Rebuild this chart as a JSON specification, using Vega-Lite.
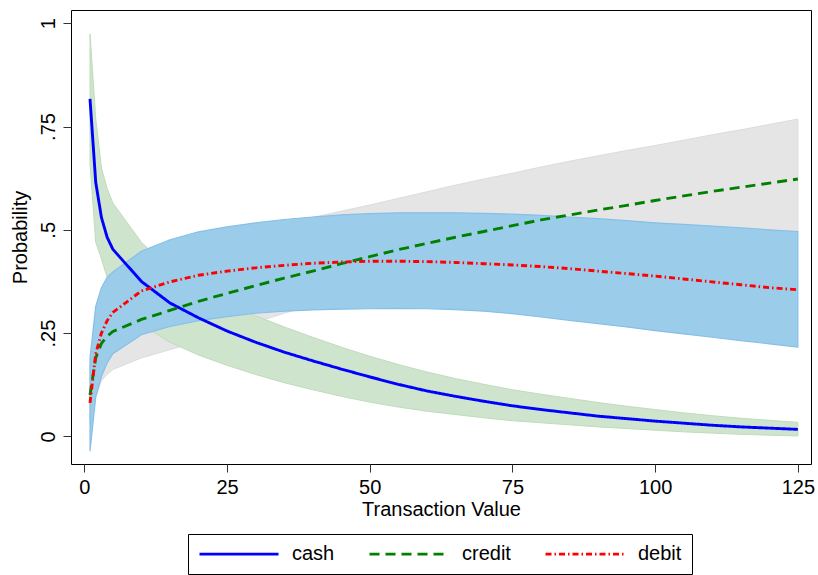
{
  "$schema": "https://vega.github.io/schema/vega-lite/v6.json",
  "width": 740,
  "height": 454,
  "autosize": {"type": "none"},
  "padding": {"left": 71, "top": 10, "right": 7, "bottom": 111},
  "config": {
    "font": "Liberation Sans",
    "view": {"stroke": "#000", "strokeWidth": 1},
    "axis": {
      "grid": false, "domain": false,
      "labelFont": "Liberation Sans", "labelFontSize": 20, "labelColor": "#000",
      "titleFont": "Liberation Sans", "titleFontSize": 20, "titleFontWeight": "normal", "titleColor": "#000",
      "tickColor": "#333", "tickSize": 8, "tickWidth": 1, "labelPadding": 5
    },
    "legend": {
      "orient": "none", "legendX": 117, "legendY": 524, "direction": "horizontal",
      "strokeColor": "#000", "fillColor": "#fff", "padding": 10, "cornerRadius": 0,
      "symbolType": "stroke", "symbolSize": 6241, "symbolStrokeWidth": 2.75, "clipHeight": 20,
      "labelFont": "Liberation Sans", "labelFontSize": 20, "labelColor": "#000", "labelOffset": 12,
      "columnPadding": 33
    }
  },
  "datasets": {
    "d": [
      {"x": 1, "s": "cash", "p": 0.817, "lo": 0.66, "hi": 0.974},
      {"x": 2, "s": "cash", "p": 0.615, "lo": 0.47, "hi": 0.77},
      {"x": 3, "s": "cash", "p": 0.53, "lo": 0.43, "hi": 0.65},
      {"x": 4, "s": "cash", "p": 0.482, "lo": 0.385, "hi": 0.6},
      {"x": 5, "s": "cash", "p": 0.453, "lo": 0.35, "hi": 0.565},
      {"x": 10, "s": "cash", "p": 0.375, "lo": 0.27, "hi": 0.47},
      {"x": 15, "s": "cash", "p": 0.323, "lo": 0.228, "hi": 0.405},
      {"x": 20, "s": "cash", "p": 0.287, "lo": 0.197, "hi": 0.36},
      {"x": 25, "s": "cash", "p": 0.255, "lo": 0.172, "hi": 0.322},
      {"x": 30, "s": "cash", "p": 0.228, "lo": 0.15, "hi": 0.292},
      {"x": 35, "s": "cash", "p": 0.204, "lo": 0.13, "hi": 0.265},
      {"x": 40, "s": "cash", "p": 0.183, "lo": 0.113, "hi": 0.24},
      {"x": 45, "s": "cash", "p": 0.163, "lo": 0.097, "hi": 0.216},
      {"x": 50, "s": "cash", "p": 0.144, "lo": 0.083, "hi": 0.194},
      {"x": 55, "s": "cash", "p": 0.126, "lo": 0.071, "hi": 0.174},
      {"x": 60, "s": "cash", "p": 0.11, "lo": 0.061, "hi": 0.156},
      {"x": 65, "s": "cash", "p": 0.097, "lo": 0.053, "hi": 0.14},
      {"x": 70, "s": "cash", "p": 0.085, "lo": 0.045, "hi": 0.126},
      {"x": 75, "s": "cash", "p": 0.074, "lo": 0.038, "hi": 0.113},
      {"x": 80, "s": "cash", "p": 0.065, "lo": 0.033, "hi": 0.102},
      {"x": 85, "s": "cash", "p": 0.057, "lo": 0.028, "hi": 0.092},
      {"x": 90, "s": "cash", "p": 0.049, "lo": 0.023, "hi": 0.082},
      {"x": 95, "s": "cash", "p": 0.043, "lo": 0.019, "hi": 0.073},
      {"x": 100, "s": "cash", "p": 0.037, "lo": 0.015, "hi": 0.065},
      {"x": 105, "s": "cash", "p": 0.032, "lo": 0.011, "hi": 0.057},
      {"x": 110, "s": "cash", "p": 0.027, "lo": 0.008, "hi": 0.05},
      {"x": 115, "s": "cash", "p": 0.023, "lo": 0.005, "hi": 0.044},
      {"x": 120, "s": "cash", "p": 0.02, "lo": 0.003, "hi": 0.039},
      {"x": 125, "s": "cash", "p": 0.017, "lo": 0.001, "hi": 0.034},
      {"x": 1, "s": "credit", "p": 0.1, "lo": 0.03, "hi": 0.17},
      {"x": 2, "s": "credit", "p": 0.19, "lo": 0.095, "hi": 0.28},
      {"x": 3, "s": "credit", "p": 0.225, "lo": 0.135, "hi": 0.32},
      {"x": 4, "s": "credit", "p": 0.242, "lo": 0.15, "hi": 0.335},
      {"x": 5, "s": "credit", "p": 0.254, "lo": 0.162, "hi": 0.35},
      {"x": 10, "s": "credit", "p": 0.283, "lo": 0.19, "hi": 0.38},
      {"x": 15, "s": "credit", "p": 0.305, "lo": 0.21, "hi": 0.41},
      {"x": 20, "s": "credit", "p": 0.327, "lo": 0.23, "hi": 0.44},
      {"x": 25, "s": "credit", "p": 0.346, "lo": 0.253, "hi": 0.465},
      {"x": 30, "s": "credit", "p": 0.365, "lo": 0.276, "hi": 0.49},
      {"x": 35, "s": "credit", "p": 0.383, "lo": 0.298, "hi": 0.51},
      {"x": 40, "s": "credit", "p": 0.4, "lo": 0.318, "hi": 0.53},
      {"x": 45, "s": "credit", "p": 0.418, "lo": 0.335, "hi": 0.545},
      {"x": 50, "s": "credit", "p": 0.435, "lo": 0.35, "hi": 0.56},
      {"x": 55, "s": "credit", "p": 0.452, "lo": 0.365, "hi": 0.576},
      {"x": 60, "s": "credit", "p": 0.467, "lo": 0.38, "hi": 0.592},
      {"x": 65, "s": "credit", "p": 0.482, "lo": 0.393, "hi": 0.608},
      {"x": 70, "s": "credit", "p": 0.496, "lo": 0.405, "hi": 0.623},
      {"x": 75, "s": "credit", "p": 0.51, "lo": 0.417, "hi": 0.637},
      {"x": 80, "s": "credit", "p": 0.524, "lo": 0.428, "hi": 0.652},
      {"x": 85, "s": "credit", "p": 0.536, "lo": 0.438, "hi": 0.666},
      {"x": 90, "s": "credit", "p": 0.548, "lo": 0.448, "hi": 0.679},
      {"x": 95, "s": "credit", "p": 0.559, "lo": 0.457, "hi": 0.692},
      {"x": 100, "s": "credit", "p": 0.571, "lo": 0.466, "hi": 0.704},
      {"x": 105, "s": "credit", "p": 0.582, "lo": 0.474, "hi": 0.717},
      {"x": 110, "s": "credit", "p": 0.593, "lo": 0.481, "hi": 0.73},
      {"x": 115, "s": "credit", "p": 0.603, "lo": 0.487, "hi": 0.742},
      {"x": 120, "s": "credit", "p": 0.613, "lo": 0.492, "hi": 0.755},
      {"x": 125, "s": "credit", "p": 0.623, "lo": 0.495, "hi": 0.768},
      {"x": 1, "s": "debit", "p": 0.081, "lo": -0.036, "hi": 0.19},
      {"x": 2, "s": "debit", "p": 0.2, "lo": 0.095, "hi": 0.315},
      {"x": 3, "s": "debit", "p": 0.25, "lo": 0.145, "hi": 0.36},
      {"x": 4, "s": "debit", "p": 0.28, "lo": 0.178, "hi": 0.385},
      {"x": 5, "s": "debit", "p": 0.3, "lo": 0.2, "hi": 0.398},
      {"x": 10, "s": "debit", "p": 0.352, "lo": 0.246, "hi": 0.448},
      {"x": 15, "s": "debit", "p": 0.374, "lo": 0.266, "hi": 0.476},
      {"x": 20, "s": "debit", "p": 0.39, "lo": 0.28, "hi": 0.495},
      {"x": 25, "s": "debit", "p": 0.4, "lo": 0.29, "hi": 0.507},
      {"x": 30, "s": "debit", "p": 0.408, "lo": 0.298, "hi": 0.517},
      {"x": 35, "s": "debit", "p": 0.414, "lo": 0.303, "hi": 0.525},
      {"x": 40, "s": "debit", "p": 0.419, "lo": 0.306, "hi": 0.531},
      {"x": 45, "s": "debit", "p": 0.422, "lo": 0.308, "hi": 0.536},
      {"x": 50, "s": "debit", "p": 0.424, "lo": 0.309, "hi": 0.539},
      {"x": 55, "s": "debit", "p": 0.424, "lo": 0.31, "hi": 0.541},
      {"x": 60, "s": "debit", "p": 0.423, "lo": 0.309, "hi": 0.541},
      {"x": 65, "s": "debit", "p": 0.421, "lo": 0.307, "hi": 0.541},
      {"x": 70, "s": "debit", "p": 0.418, "lo": 0.303, "hi": 0.54},
      {"x": 75, "s": "debit", "p": 0.415, "lo": 0.297, "hi": 0.538},
      {"x": 80, "s": "debit", "p": 0.411, "lo": 0.289, "hi": 0.535},
      {"x": 85, "s": "debit", "p": 0.406, "lo": 0.281, "hi": 0.531},
      {"x": 90, "s": "debit", "p": 0.4, "lo": 0.273, "hi": 0.527},
      {"x": 95, "s": "debit", "p": 0.394, "lo": 0.265, "hi": 0.522},
      {"x": 100, "s": "debit", "p": 0.388, "lo": 0.256, "hi": 0.517},
      {"x": 105, "s": "debit", "p": 0.381, "lo": 0.248, "hi": 0.513},
      {"x": 110, "s": "debit", "p": 0.374, "lo": 0.24, "hi": 0.509},
      {"x": 115, "s": "debit", "p": 0.367, "lo": 0.232, "hi": 0.505},
      {"x": 120, "s": "debit", "p": 0.36, "lo": 0.224, "hi": 0.5},
      {"x": 125, "s": "debit", "p": 0.355, "lo": 0.216, "hi": 0.496}
    ]
  },
  "data": {"name": "d"},
  "encoding": {
    "x": {
      "field": "x", "type": "quantitative",
      "scale": {"domain": [-2.33, 127.3], "nice": false, "zero": false},
      "axis": {"values": [0, 25, 50, 75, 100, 125], "title": "Transaction Value", "titlePadding": 2}
    }
  },
  "layer": [
    {
      "transform": [{"filter": "datum.s === 'credit'"}],
      "mark": {"type": "area", "fill": "#e5e5e5", "stroke": "#dcdcdc", "strokeWidth": 1},
      "encoding": {
        "y": {
          "field": "lo", "type": "quantitative",
          "scale": {"domain": [-0.0668, 1.032], "nice": false, "zero": false},
          "axis": {
            "values": [0, 0.25, 0.5, 0.75, 1], "title": "Probability",
            "labelAngle": 270, "labelAlign": "center", "labelBaseline": "bottom",
            "labelExpr": "datum.value == 0 ? '0' : datum.value == 1 ? '1' : replace(format(datum.value, '.2~f'), '0.', '.')",
            "titlePadding": 8
          }
        },
        "y2": {"field": "hi"}
      }
    },
    {
      "transform": [{"filter": "datum.s === 'cash'"}],
      "mark": {"type": "area", "fill": "#cfe4cd", "stroke": "#bfdcbc", "strokeWidth": 1},
      "encoding": {
        "y": {"field": "lo", "type": "quantitative"},
        "y2": {"field": "hi"}
      }
    },
    {
      "transform": [{"filter": "datum.s === 'debit'"}],
      "mark": {"type": "area", "fill": "#9bcdeb", "stroke": "#86bfe8", "strokeWidth": 1.2},
      "encoding": {
        "y": {"field": "lo", "type": "quantitative"},
        "y2": {"field": "hi"}
      }
    },
    {
      "mark": {"type": "line", "strokeWidth": 2.9},
      "encoding": {
        "y": {"field": "p", "type": "quantitative"},
        "color": {
          "field": "s", "type": "nominal",
          "scale": {"domain": ["cash", "credit", "debit"], "range": ["#0000ff", "#008000", "#ff0000"]},
          "legend": {"title": null}
        },
        "strokeDash": {
          "field": "s", "type": "nominal",
          "scale": {"domain": ["cash", "credit", "debit"], "range": [[1, 0], [10, 6], [6, 3, 1.5, 3]]},
          "legend": {"title": null}
        }
      }
    }
  ]
}
